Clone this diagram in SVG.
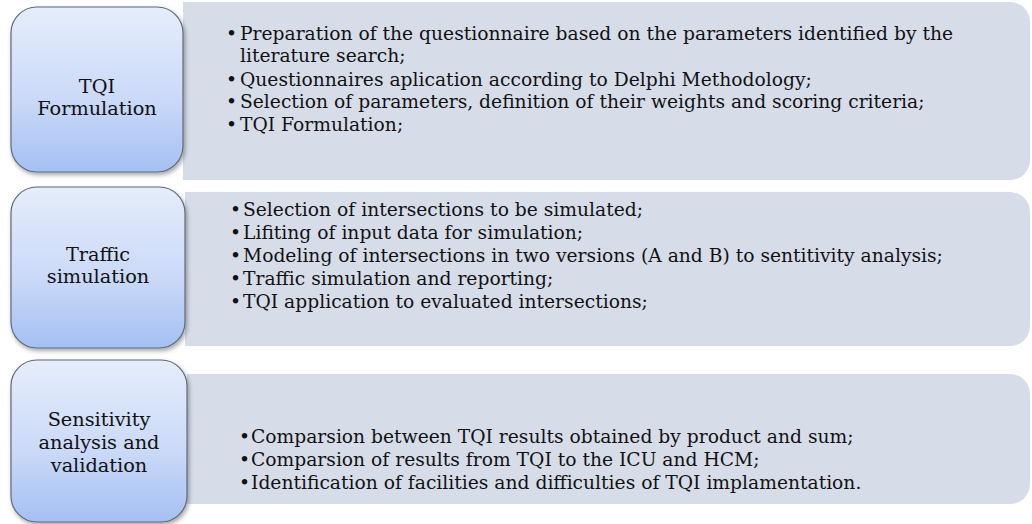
<svg xmlns="http://www.w3.org/2000/svg" width="1032" height="524" viewBox="0 0 1032 524">
  <defs>
    <linearGradient id="stageFill" x1="0" y1="0" x2="0" y2="1">
      <stop offset="0" stop-color="#e6edfb"/>
      <stop offset="0.55" stop-color="#cbdaf8"/>
      <stop offset="1" stop-color="#a4c0f3"/>
    </linearGradient>
    <filter id="softShadow" x="-10%" y="-10%" width="125%" height="125%">
      <feDropShadow dx="1.5" dy="2.5" stdDeviation="2" flood-color="#000" flood-opacity="0.35"/>
    </filter>
    <style>
      .panel { fill: #d6dde9; }
      .stage { fill: url(#stageFill); stroke: #5f6978; stroke-width: 1.2; filter: url(#softShadow); }
      .stage-label { font-family: "DejaVu Serif", "Liberation Serif", serif; font-size: 19.3px; fill: #111; text-anchor: middle; }
      .item { font-family: "DejaVu Serif", "Liberation Serif", serif; font-size: 18.7px; fill: #111; }
    </style>
  </defs>

  <!-- Stage 1: TQI formulation -->
  <g id="stage-tqi-formulation">
    <path class="panel" d="M183,2 H1010 A20,20 0 0 1 1030,22 V160 A20,20 0 0 1 1010,180 H183 Z"/>
    <rect class="stage" x="11" y="7" width="172" height="165" rx="26" ry="26"/>
    <text class="stage-label" x="97" y="93">TQI</text>
    <text class="stage-label" x="97" y="115">Formulation</text>
    <text class="item" x="226" y="40">•<tspan x="240">Preparation of the questionnaire based on the parameters identified by the</tspan></text>
    <text class="item" x="240" y="62">literature search;</text>
    <text class="item" x="226" y="86">•<tspan x="240">Questionnaires aplication according to Delphi Methodology;</tspan></text>
    <text class="item" x="226" y="108">•<tspan x="240">Selection of parameters, definition of their weights and scoring criteria;</tspan></text>
    <text class="item" x="226" y="131">•<tspan x="240">TQI Formulation;</tspan></text>
  </g>

  <!-- Stage 2: traffic simulation -->
  <g id="stage-traffic-simulation">
    <path class="panel" d="M185,192 H1010 A20,20 0 0 1 1030,212 V326 A20,20 0 0 1 1010,346 H185 Z"/>
    <rect class="stage" x="11" y="187" width="174" height="161" rx="26" ry="26"/>
    <text class="stage-label" x="98" y="261">Traffic</text>
    <text class="stage-label" x="98" y="283">simulation</text>
    <text class="item" x="230" y="216">•<tspan x="243">Selection of intersections to be simulated;</tspan></text>
    <text class="item" x="230" y="239">•<tspan x="243">Lifiting of input data for simulation;</tspan></text>
    <text class="item" x="230" y="262">•<tspan x="243">Modeling of intersections in two versions (A and B) to sentitivity analysis;</tspan></text>
    <text class="item" x="230" y="285">•<tspan x="243">Traffic simulation and reporting;</tspan></text>
    <text class="item" x="230" y="308">•<tspan x="243">TQI application to evaluated intersections;</tspan></text>
  </g>

  <!-- Stage 3: sensitivity analysis and validation -->
  <g id="stage-sensitivity-validation">
    <path class="panel" d="M187,374 H1010 A20,20 0 0 1 1030,394 V484 A20,20 0 0 1 1010,504 H187 Z"/>
    <rect class="stage" x="11" y="360" width="176" height="162" rx="26" ry="26"/>
    <text class="stage-label" x="99" y="426">Sensitivity</text>
    <text class="stage-label" x="99" y="449">analysis and</text>
    <text class="stage-label" x="99" y="472">validation</text>
    <text class="item" x="239" y="443">•<tspan x="251">Comparsion between TQI results obtained by product and sum;</tspan></text>
    <text class="item" x="239" y="466">•<tspan x="251">Comparsion of results from TQI to the ICU and HCM;</tspan></text>
    <text class="item" x="239" y="489">•<tspan x="251">Identification of facilities and difficulties of TQI implamentation.</tspan></text>
  </g>
</svg>
